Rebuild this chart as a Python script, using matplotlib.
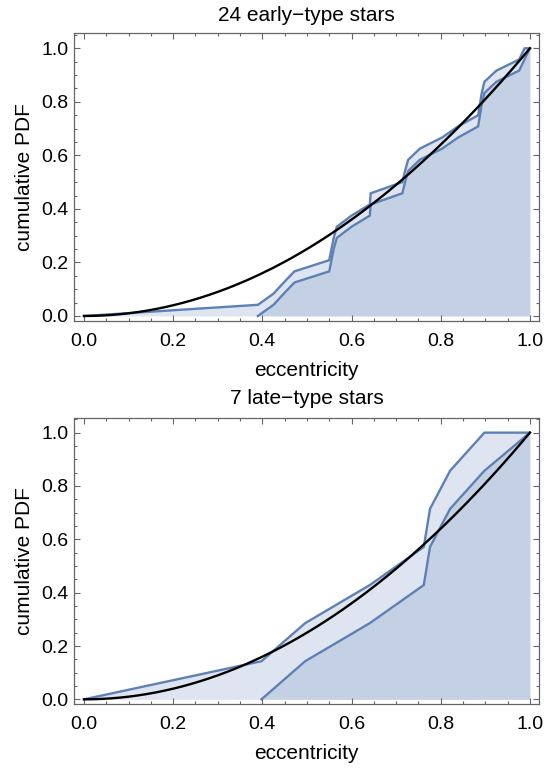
import numpy as np
import matplotlib
matplotlib.use("Agg")
import matplotlib.pyplot as plt
from matplotlib.ticker import MultipleLocator

# Sorted eccentricities of the two samples
early_ecc = [0.390, 0.425, 0.448, 0.472, 0.550, 0.555, 0.560, 0.567,
             0.600, 0.641, 0.643, 0.714, 0.720, 0.727, 0.753, 0.803,
             0.839, 0.884, 0.888, 0.892, 0.898, 0.925, 0.976, 0.988]
late_ecc = [0.398, 0.496, 0.641, 0.762, 0.776, 0.821, 0.898]

panel_titles = ["24 early\u2212type stars", "7 late\u2212type stars"]

BLUE = "#5e81b5"
FRAME = "#666666"

plt.rcParams["font.family"] = ["Liberation Sans", "DejaVu Sans"]
plt.rcParams["font.size"] = 14


def thermal_cdf(e):
    # cumulative distribution of a thermal eccentricity distribution, f(e) = 2e
    return e ** 2


def ecdf_bounds(ecc):
    """Upper and lower empirical CDF polylines (linear between the points)."""
    n = len(ecc)
    ecc = np.asarray(ecc)
    rank = np.arange(1, n + 1) / n
    x_up = np.concatenate([[0.0], ecc, [1.0]])
    y_up = np.concatenate([[0.0], rank, [1.0]])
    x_lo = np.concatenate([ecc, [1.0]])
    y_lo = np.concatenate([rank - 1.0 / n, [1.0]])
    return x_up, y_up, x_lo, y_lo


def draw_panel(ax, ecc, title, title_pad):
    x_up, y_up, x_lo, y_lo = ecdf_bounds(ecc)

    # both curves are filled down to the axis, so the overlap comes out darker
    ax.fill_between(x_up, y_up, 0, color=BLUE, alpha=0.2, lw=0)
    ax.fill_between(x_lo, y_lo, 0, color=BLUE, alpha=0.2, lw=0)
    ax.plot(x_up, y_up, color=BLUE, lw=1.7, solid_joinstyle="miter")
    ax.plot(x_lo, y_lo, color=BLUE, lw=1.7, solid_joinstyle="miter")

    e = np.linspace(0, 1, 200)
    ax.plot(e, thermal_cdf(e), color="black", lw=1.7)

    ax.set_xlim(-0.0224, 1.021)
    ax.set_ylim(-0.0187, 1.056)
    ax.xaxis.set_major_locator(MultipleLocator(0.2))
    ax.xaxis.set_minor_locator(MultipleLocator(0.05))
    ax.yaxis.set_major_locator(MultipleLocator(0.2))
    ax.yaxis.set_minor_locator(MultipleLocator(0.05))
    ax.xaxis.set_major_formatter(plt.FormatStrFormatter("%.1f"))
    ax.yaxis.set_major_formatter(plt.FormatStrFormatter("%.1f"))

    ax.tick_params(which="both", direction="in", top=True, right=True,
                   color=FRAME, width=0.8, labelsize=14)
    ax.tick_params(which="major", length=4.3)
    ax.tick_params(which="minor", length=2.5)
    ax.tick_params(axis="x", pad=8.5)
    ax.tick_params(axis="y", pad=4.1)
    for spine in ax.spines.values():
        spine.set_color(FRAME)
        spine.set_linewidth(0.9)

    ax.set_xlabel("eccentricity", fontsize=15, labelpad=8)
    ax.set_ylabel("cumulative PDF", fontsize=15, labelpad=5)
    ax.set_title(title, pad=title_pad, fontsize=15)


fig = plt.figure(figsize=(5.44, 7.69), dpi=100)
ax_top = fig.add_axes([0.136, 0.5826, 0.8553, 0.3741])
ax_bot = fig.add_axes([0.136, 0.0841, 0.8553, 0.3727])

draw_panel(ax_top, early_ecc, panel_titles[0], 9)
draw_panel(ax_bot, late_ecc, panel_titles[1], 9.8)

fig.savefig("out.png", dpi=100)
